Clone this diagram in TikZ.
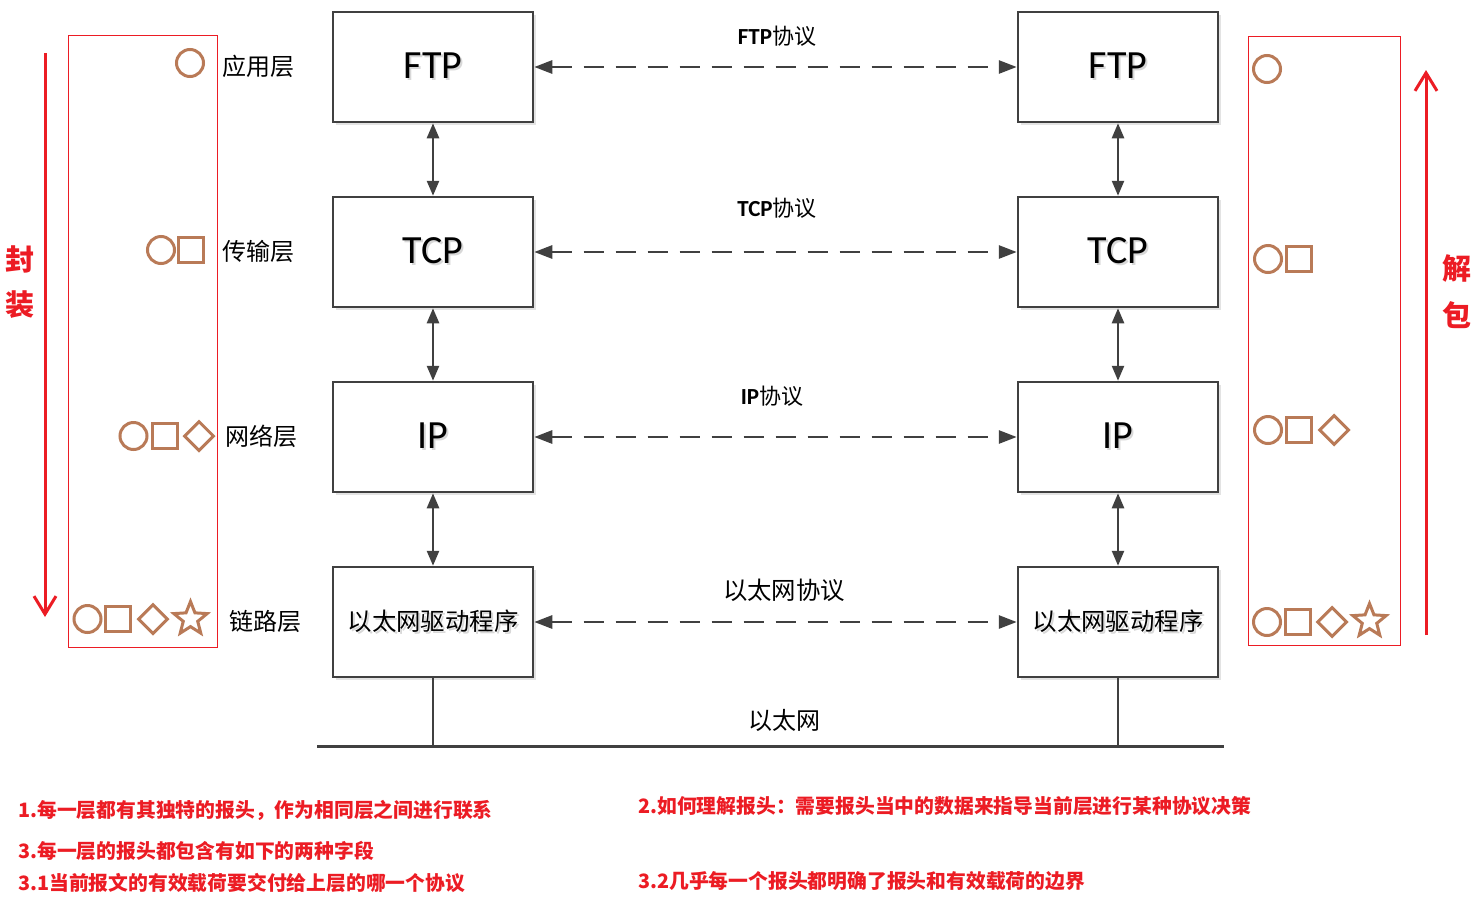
\documentclass[tikz,border=0pt]{standalone}
\usepackage{fontspec}
\setmainfont{Carlito}
\newfontfamily\cjk{Noto Sans CJK SC}
\usetikzlibrary{arrows.meta,shapes.geometric,shadows}

\definecolor{edgegray}{RGB}{64,64,64}
\definecolor{shade}{RGB}{200,200,200}
\definecolor{hdrbrown}{RGB}{185,122,87}
\definecolor{notered}{RGB}{236,28,36}

\newcommand\castshade[1]{\rlap{\hspace{2pt}\raisebox{-2pt}{\textcolor{shade!70}{#1}}}#1}

\tikzset{
  stackbox/.style={draw=edgegray, line width=2.5pt, fill=white,
    minimum width=200pt, minimum height=110pt, inner sep=0pt,
    drop shadow={shadow xshift=3pt, shadow yshift=-3pt, fill=shade, opacity=0.5}},
  bigname/.style={font=\fontsize{40}{40}\selectfont},
  drvname/.style={font=\cjk\fontsize{24.4}{24.4}\selectfont},
  peerlink/.style={draw=edgegray, line width=2.8pt, dash pattern=on 20pt off 12pt,
    {Triangle[length=18pt,width=13pt]}-{Triangle[length=18pt,width=13pt]}},
  stacklink/.style={draw=edgegray, line width=2.5pt,
    {Triangle[length=15pt,width=12pt]}-{Triangle[length=15pt,width=12pt]}},
  wire/.style={draw=edgegray, line width=2.5pt},
  protolabel/.style={font=\fontsize{23}{23}\selectfont\bfseries},
  layerlabel/.style={font=\cjk\fontsize{24}{24}\selectfont},
  hdr/.style={draw=hdrbrown, line width=3pt, inner sep=0pt},
  ring/.style={hdr, circle, minimum size=27pt},
  sq/.style={hdr, rectangle, minimum size=25pt},
  gem/.style={hdr, diamond, minimum width=30pt, minimum height=30pt},
  pip/.style={hdr, star, star points=5, star point ratio=2.3, minimum size=35pt},
  frame/.style={draw=notered, line width=1pt},
  flow/.style={draw=notered, line width=3pt, -{Straight Barb[length=18pt,width=22pt]}},
  sidetag/.style={text=notered, font=\cjk\fontsize{29}{29}\selectfont\bfseries},
  remark/.style={text=notered, anchor=west, font=\cjk\fontsize{19.8}{19.8}\selectfont\bfseries, inner sep=0pt}
}

\begin{document}
\begin{tikzpicture}[x=1pt,y=-1pt]
\path[use as bounding box, fill=white] (0,0) rectangle (1482,908);

% protocol stacks of the two hosts
\node[stackbox, bigname] (L1) at (433,67)  {\castshade{FTP}};
\node[stackbox, bigname] (L2) at (433,252) {\castshade{TCP}};
\node[stackbox, bigname] (L3) at (433,437) {\castshade{IP}};
\node[stackbox, drvname] (L4) at (433,622) {\castshade{以太网驱动程序}};
\node[stackbox, bigname] (R1) at (1118,67)  {\castshade{FTP}};
\node[stackbox, bigname] (R2) at (1118,252) {\castshade{TCP}};
\node[stackbox, bigname] (R3) at (1118,437) {\castshade{IP}};
\node[stackbox, drvname] (R4) at (1118,622) {\castshade{以太网驱动程序}};

% links between adjacent layers
\draw[stacklink] (L1) -- (L2);
\draw[stacklink] (L2) -- (L3);
\draw[stacklink] (L3) -- (L4);
\draw[stacklink] (R1) -- (R2);
\draw[stacklink] (R2) -- (R3);
\draw[stacklink] (R3) -- (R4);

% peer-to-peer protocols
\draw[peerlink] (L1) -- (R1);
\draw[peerlink] (L2) -- (R2);
\draw[peerlink] (L3) -- (R3);
\draw[peerlink] (L4) -- (R4);
\node[protolabel] (p1) at (777,36)  {FTP{\cjk\mdseries\fontsize{22}{22}\selectfont 协议}};
\node[protolabel] (p2) at (777,208) {TCP{\cjk\mdseries\fontsize{22}{22}\selectfont 协议}};
\node[protolabel] (p3) at (772,396) {IP{\cjk\mdseries\fontsize{22}{22}\selectfont 协议}};
\node[font=\cjk\fontsize{24.4}{24.4}\selectfont] (p4) at (784,590) {以太网协议};

% ethernet bus
\coordinate (busW) at (317,746);
\coordinate (busE) at (1224,746);
\draw[wire, line width=3pt] (busW) -- (busE);
\draw[wire] (L4.south) -- (L4.south |- busW);
\draw[wire] (R4.south) -- (R4.south |- busW);
\node[font=\cjk\fontsize{24}{24}\selectfont] (bus) at (784,720) {以太网};

% layer names
\node[layerlabel] (n1) at (258,66)  {应用层};
\node[layerlabel] (n2) at (258,251) {传输层};
\node[layerlabel] (n3) at (261,436) {网络层};
\node[layerlabel] (n4) at (265,621) {链路层};

% headers added on the way down
\draw[frame] (68,35) rectangle (217,647);
\node[ring] (a1) at (190,63) {};
\node[ring] (b1) at (161,250) {};
\node[sq]   (b2) at (191,250) {};
\node[ring] (c1) at (133.5,436) {};
\node[sq]   (c2) at (164.5,436) {};
\node[gem]  (c3) at (199,436) {};
\node[ring] (d1) at (87.5,619) {};
\node[sq]   (d2) at (118,619) {};
\node[gem]  (d3) at (153,619) {};
\node[pip]  (d4) at (190.5,619) {};

% headers removed on the way up
\draw[frame] (1248,36) rectangle (1400,645);
\node[ring] (e1) at (1267,69) {};
\node[ring] (f1) at (1268,259) {};
\node[sq]   (f2) at (1298.5,259) {};
\node[ring] (g1) at (1268,430) {};
\node[sq]   (g2) at (1299,430) {};
\node[gem]  (g3) at (1334,430) {};
\node[ring] (h1) at (1267,622) {};
\node[sq]   (h2) at (1297.5,622) {};
\node[gem]  (h3) at (1332,622) {};
\node[pip]  (h4) at (1369.5,621) {};

% direction of encapsulation / decapsulation
\coordinate (downTop) at (45,53);
\coordinate (downEnd) at (45,617);
\draw[flow] (downTop) -- (downEnd);
\coordinate (upBot) at (1426,635);
\coordinate (upEnd) at (1426,70);
\draw[flow] (upBot) -- (upEnd);
\node[sidetag] (s1) at (20,259) {封};
\node[sidetag] (s2) at (20,305) {装};
\node[sidetag] (s3) at (1457,269) {解};
\node[sidetag] (s4) at (1457,315) {包};

% notes
\node[remark] (m1) at (18,810) {1.每一层都有其独特的报头，作为相同层之间进行联系};
\node[remark] (m2) at (638,806) {2.如何理解报头：需要报头当中的数据来指导当前层进行某种协议决策};
\node[remark] (m3) at (18,851) {3.每一层的报头都包含有如下的两种字段};
\node[remark] (m4) at (18,883) {3.1当前报文的有效载荷要交付给上层的哪一个协议};
\node[remark] (m5) at (638,881) {3.2几乎每一个报头都明确了报头和有效载荷的边界};
\end{tikzpicture}
\end{document}
